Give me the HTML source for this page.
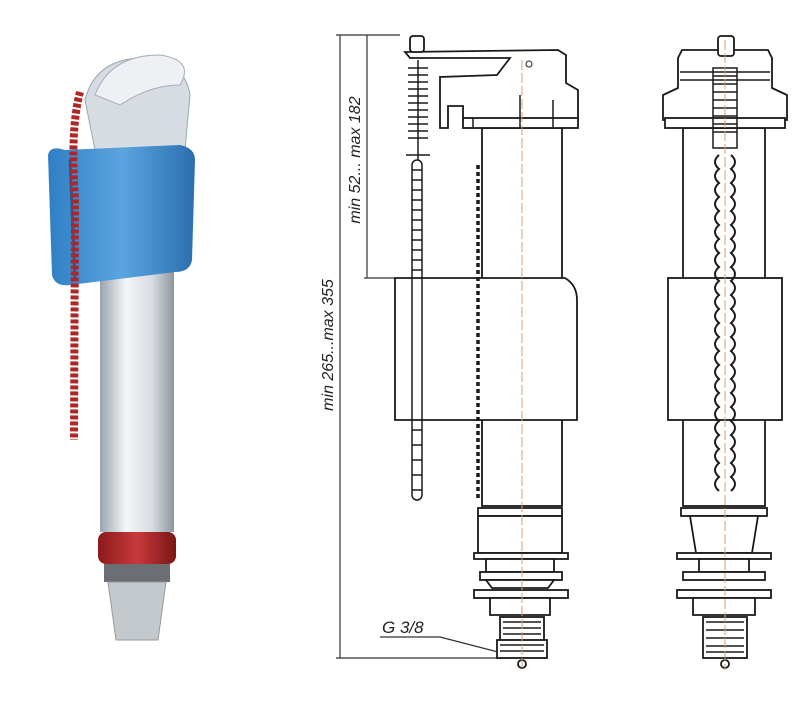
<!DOCTYPE html><html><head><style>body{margin:0;background:#fff}svg{display:block}</style></head><body>
<svg width="799" height="722" viewBox="0 0 799 722" xmlns="http://www.w3.org/2000/svg" font-family="Liberation Sans, sans-serif">
<defs>
<linearGradient id="tube" x1="0" x2="1"><stop offset="0" stop-color="#9aa3ad"/><stop offset=".35" stop-color="#f4f6f8"/><stop offset=".7" stop-color="#d8dde2"/><stop offset="1" stop-color="#8d96a0"/></linearGradient>
<linearGradient id="blue" x1="0" x2="1"><stop offset="0" stop-color="#2f7fc4"/><stop offset=".5" stop-color="#5aa5e0"/><stop offset="1" stop-color="#2a6fb0"/></linearGradient>
<linearGradient id="red" x1="0" x2="1"><stop offset="0" stop-color="#8a1a1a"/><stop offset=".5" stop-color="#c83a3a"/><stop offset="1" stop-color="#7a1515"/></linearGradient>
</defs>
<!-- Left product -->
<path d="M85 100 Q95 60 140 58 Q185 60 190 95 L185 150 L95 150 Z" fill="#d7dce2" stroke="#9aa" stroke-width="1"/>
<path d="M95 95 Q110 55 160 55 Q195 60 180 85 Q150 85 120 105 Z" fill="#eef1f4" stroke="#aab"/>
<rect x="100" y="270" width="74" height="262" fill="url(#tube)"/>
<rect x="98" y="532" width="78" height="32" rx="8" fill="url(#red)"/>
<rect x="104" y="564" width="66" height="18" fill="#6b6f74"/>
<path d="M108 582 L166 582 L158 640 L116 640 Z" fill="#c4c9ce" stroke="#999"/>
<path d="M48 155 Q50 145 65 150 L180 145 Q195 148 195 160 L192 260 Q190 272 175 272 L70 285 Q55 287 52 275 Z" fill="url(#blue)"/>
<path d="M70 160 L75 280" stroke="#1e5f9a" stroke-width="3"/>
<path d="M80 92 Q70 130 75 200 L74 440" stroke="#b02626" stroke-width="8" stroke-dasharray="4 2" fill="none"/>
<!-- Dimension lines -->
<g stroke="#333" stroke-width="1.2" fill="none">
<line x1="340" y1="35" x2="340" y2="658"/><line x1="336" y1="35" x2="400" y2="35"/><line x1="336" y1="658" x2="500" y2="658"/>
<line x1="367" y1="35" x2="367" y2="278"/><line x1="364" y1="278" x2="395" y2="278"/>
<line x1="380" y1="637" x2="440" y2="637"/><line x1="440" y1="637" x2="498" y2="652"/>
<line x1="398" y1="380" x2="575" y2="380"/><line x1="670" y1="380" x2="722" y2="380"/>
</g>
<g fill="#222" font-style="italic" font-size="16">
<text transform="translate(333,345) rotate(-90)" text-anchor="middle">min 265...max 355</text>
<text transform="translate(360,160) rotate(-90)" text-anchor="middle">min 52... max 182</text>
<text x="474" y="373" font-size="17">80</text>
<text x="677" y="373" font-size="17">50</text>
<text x="382" y="633" font-size="17">G 3/8</text>
</g>
<!-- Middle valve -->
<g stroke="#1a1a1a" stroke-width="1.8" fill="#fff">
<rect x="482" y="128" width="80" height="378"/>
<path d="M395 278 L565 278 Q577 285 577 300 L577 420 L395 420 Z"/>
<path d="M405 52 L558 50 L566 55 L566 83 L578 90 L578 120 L463 120 L463 106 L448 106 L448 128 L440 128 L440 77 L497 75 L510 58 L410 58 Z"/>
<rect x="463" y="118" width="115" height="10"/>
<rect x="478" y="508" width="84" height="8"/>
<rect x="478" y="516" width="84" height="37"/>
<rect x="474" y="553" width="94" height="6"/>
<rect x="486" y="559" width="68" height="13"/>
<rect x="480" y="572" width="82" height="8"/>
<path d="M486 580 L554 580 L548 588 L492 588 Z"/>
<rect x="474" y="590" width="94" height="8"/>
<path d="M490 598 L550 598 L550 615 L490 615 Z"/>
<rect x="500" y="617" width="44" height="25"/>
<rect x="497" y="640" width="50" height="18"/>
<circle cx="522" cy="664" r="4"/>
<rect x="410" y="36" width="14" height="16" rx="3"/>
</g>
<g stroke="#1a1a1a" stroke-width="1.5" fill="none">
<path d="M503 622 H541 M503 628 H541 M503 634 H541 M500 645 H544 M500 651 H544"/>
<path d="M408 68 H428 M408 75 H428 M408 82 H428 M408 89 H428 M408 96 H428 M408 103 H428 M408 110 H428 M408 117 H428 M408 124 H428 M408 131 H428 M408 138 H428 M406 155 H430"/>
<line x1="418" y1="60" x2="418" y2="160"/>
<rect x="412" y="160" width="10" height="340" rx="5"/>
<path d="M412 170 h10 M412 180 h10 M412 190 h10 M412 200 h10 M412 210 h10 M412 220 h10 M412 230 h10 M412 240 h10 M412 250 h10 M412 260 h10 M412 270 h10 M412 430 h10 M412 445 h10 M412 460 h10 M412 475 h10 M412 490 h10"/>
<line x1="478" y1="165" x2="478" y2="500" stroke-dasharray="4 3" stroke-width="3.5"/>
<path d="M473 128 V118 M520 128 V95 M553 128 V100" />
</g>
<line x1="522" y1="60" x2="522" y2="670" stroke="#d4a070" stroke-width="1" stroke-dasharray="10 3"/>
<circle cx="529" cy="64" r="3" fill="none" stroke="#222"/>
<!-- Right valve -->
<g stroke="#1a1a1a" stroke-width="1.8" fill="#fff">
<rect x="683" y="128" width="82" height="378"/>
<rect x="668" y="278" width="114" height="142"/>
<path d="M682 50 L768 50 L772 58 L772 88 L787 95 L787 120 L663 120 L663 95 L678 88 L678 58 Z"/>
<rect x="665" y="118" width="120" height="10"/>
<rect x="718" y="36" width="16" height="20" rx="3"/>
<rect x="681" y="508" width="86" height="8"/>
<path d="M690 516 L758 516 L752 553 L696 553 Z"/>
<rect x="677" y="553" width="94" height="6"/>
<rect x="699" y="559" width="50" height="13"/>
<rect x="683" y="572" width="82" height="8"/>
<rect x="677" y="590" width="94" height="8"/>
<path d="M693 598 L755 598 L755 615 L693 615 Z"/>
<rect x="703" y="617" width="44" height="41"/>
<circle cx="725" cy="664" r="4"/>
</g>
<g stroke="#1a1a1a" stroke-width="1.5" fill="none">
<path d="M706 622 H744 M706 630 H744 M706 638 H744 M706 646 H744 M706 652 H744"/>
<rect x="713" y="68" width="24" height="80"/>
<path d="M713 76 H737 M713 84 H737 M713 92 H737 M713 100 H737 M713 108 H737 M713 116 H737 M713 124 H737 M713 132 H737"/>
<path d="M680 72 H770 M680 80 H770"/>
<path d="M719 155 q-8 7 0 14 q-8 7 0 14 q-8 7 0 14 q-8 7 0 14 q-8 7 0 14 q-8 7 0 14 q-8 7 0 14 q-8 7 0 14 q-8 7 0 14 q-8 7 0 14 q-8 7 0 14 q-8 7 0 14 q-8 7 0 14 q-8 7 0 14 q-8 7 0 14 q-8 7 0 14 q-8 7 0 14 q-8 7 0 14 q-8 7 0 14 q-8 7 0 14 q-8 7 0 14 q-8 7 0 14 q-8 7 0 14 q-8 7 0 14" stroke-width="2"/>
<path d="M731 155 q8 7 0 14 q8 7 0 14 q8 7 0 14 q8 7 0 14 q8 7 0 14 q8 7 0 14 q8 7 0 14 q8 7 0 14 q8 7 0 14 q8 7 0 14 q8 7 0 14 q8 7 0 14 q8 7 0 14 q8 7 0 14 q8 7 0 14 q8 7 0 14 q8 7 0 14 q8 7 0 14 q8 7 0 14 q8 7 0 14 q8 7 0 14 q8 7 0 14 q8 7 0 14 q8 7 0 14" stroke-width="2"/>
</g>
<line x1="725" y1="40" x2="725" y2="670" stroke="#d4a070" stroke-width="1" stroke-dasharray="10 3"/>
</svg>
</body></html>
